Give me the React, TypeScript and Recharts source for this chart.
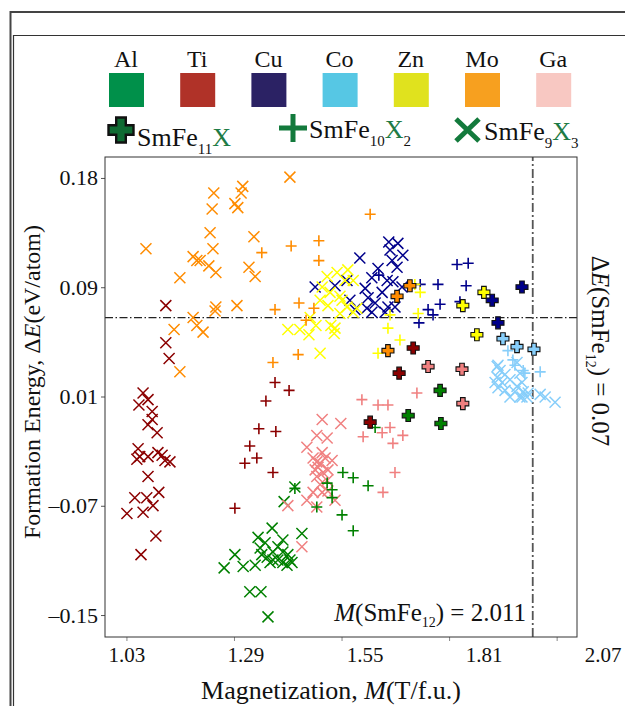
import React from 'react';
import { ScatterChart, Scatter, XAxis, YAxis, ReferenceLine } from 'recharts';

const xTicks = [1.03, 1.29, 1.55, 1.81, 2.07];
const xTickLabels = ['1.03', '1.29', '1.55', '1.81', '2.07'];
const yTicks = [-0.155, -0.0725, 0.01, 0.0925, 0.175];
const yTickLabels = ['\u20130.15', '\u20130.07', '0.01', '0.09', '0.18'];

const elements = ['Al', 'Ti', 'Cu', 'Co', 'Zn', 'Mo', 'Ga'];
const legendColors = ['#00904A', '#B03228', '#2B2264', '#56C7E4', '#E0E21E', '#F7A01F', '#F8C8C2'];
const seriesColors = ['#008000', '#8B0000', '#00008B', '#87CEFA', '#FFFF00', '#FF8C00', '#F08080'];

const mSmFe12 = 2.011;
const eSmFe12 = 0.07;

// [M, dE]
const alFe9 = [[1.436,-0.058],[1.410,-0.069],[1.381,-0.089],[1.453,-0.093],[1.347,-0.096],[1.407,-0.098],[1.364,-0.100],[1.352,-0.104],[1.395,-0.103],[1.383,-0.107],[1.407,-0.107],[1.291,-0.109],[1.356,-0.109],[1.369,-0.111],[1.419,-0.109],[1.383,-0.113],[1.395,-0.113],[1.424,-0.113],[1.376,-0.115],[1.407,-0.115],[1.417,-0.117],[1.429,-0.115],[1.265,-0.119],[1.311,-0.118],[1.340,-0.117],[1.327,-0.137],[1.354,-0.137],[1.371,-0.156]];
const alFe10 = [[1.436,-0.059],[1.552,-0.047],[1.577,-0.051],[1.526,-0.060],[1.526,-0.066],[1.489,-0.073],[1.550,-0.079],[1.577,-0.091],[1.514,-0.055],[1.613,-0.057],[1.630,-0.013]];
const alFe11 = [[1.787,0.015],[1.710,-0.004],[1.789,-0.010]];

const tiFe9 = [[1.124,0.079],[1.124,0.051],[1.132,0.039],[1.069,0.013],[1.081,0.008],[1.059,0.004],[1.091,-0.001],[1.091,-0.007],[1.081,-0.011],[1.103,-0.017],[1.057,-0.029],[1.061,-0.035],[1.054,-0.037],[1.081,-0.035],[1.105,-0.032],[1.115,-0.034],[1.122,-0.038],[1.134,-0.039],[1.081,-0.050],[1.049,-0.066],[1.078,-0.066],[1.107,-0.062],[1.093,-0.072],[1.030,-0.078],[1.069,-0.077],[1.100,-0.095],[1.064,-0.109]];
const tiFe10 = [[1.388,0.021],[1.422,0.015],[1.366,0.007],[1.349,-0.014],[1.390,-0.016],[1.327,-0.027],[1.344,-0.036],[1.315,-0.040],[1.383,-0.047],[1.291,-0.074]];
const tiFe11 = [[1.722,0.047],[1.688,0.028],[1.618,-0.009]];

const cuFe9 = [[1.663,0.127],[1.685,0.126],[1.666,0.121],[1.697,0.117],[1.671,0.113],[1.593,0.115],[1.637,0.107],[1.683,0.108],[1.622,0.100],[1.659,0.098],[1.673,0.097],[1.606,0.092],[1.647,0.089],[1.695,0.093],[1.613,0.085],[1.569,0.083],[1.630,0.081],[1.661,0.078],[1.610,0.077],[1.678,0.078],[1.581,0.076],[1.622,0.074],[1.654,0.074],[1.562,0.098],[1.485,0.093],[1.533,0.094]];
const cuFe10 = [[1.639,0.102],[1.739,0.095],[1.782,0.095],[1.828,0.110],[1.855,0.111],[1.850,0.094],[1.787,0.080],[1.835,0.082],[1.758,0.076],[1.770,0.072],[1.736,0.066]];
const cuFe11 = [[1.985,0.093],[1.913,0.083],[1.927,0.066]];

const coFe9 = [[1.927,0.034],[1.932,0.030],[1.925,0.025],[1.920,0.021],[1.937,0.021],[1.927,0.017],[1.944,0.015],[1.956,0.010],[1.973,0.018],[1.985,0.021],[1.980,0.028],[1.968,0.014],[1.988,0.014],[1.997,0.010],[1.985,0.010],[2.029,0.012],[2.041,0.010],[2.065,0.006],[1.925,0.033],[1.973,0.036],[1.980,0.010],[2.000,0.013],[1.956,0.023],[1.944,0.027]];
const coFe10 = [[1.951,0.045],[1.963,0.038],[1.968,0.034],[1.988,0.030],[1.992,0.028],[2.029,0.029]];
const coFe11 = [[1.939,0.054],[1.973,0.048],[2.014,0.046]];

const znFe9 = [[1.514,0.101],[1.538,0.104],[1.564,0.106],[1.577,0.098],[1.557,0.098],[1.521,0.089],[1.545,0.086],[1.497,0.083],[1.516,0.079],[1.562,0.078],[1.545,0.073],[1.577,0.074],[1.419,0.061],[1.448,0.061],[1.470,0.057],[1.487,0.064],[1.523,0.064],[1.531,0.058],[1.533,0.062],[1.497,0.043],[1.550,0.083],[1.586,0.077],[1.502,0.093],[1.473,0.070]];
const znFe10 = [[1.739,0.089],[1.726,0.095],[1.734,0.073],[1.661,0.062],[1.690,0.053],[1.637,0.043],[1.666,0.072]];
const znFe11 = [[1.893,0.089],[1.842,0.079],[1.876,0.057]];

const moFe9 = [[1.424,0.176],[1.310,0.169],[1.240,0.164],[1.306,0.164],[1.291,0.156],[1.298,0.153],[1.236,0.152],[1.231,0.134],[1.337,0.131],[1.076,0.122],[1.238,0.122],[1.190,0.116],[1.199,0.113],[1.207,0.113],[1.228,0.109],[1.245,0.104],[1.325,0.108],[1.340,0.101],[1.158,0.100],[1.296,0.079],[1.245,0.078],[1.243,0.075],[1.190,0.070],[1.144,0.061],[1.199,0.064],[1.214,0.059],[1.158,0.029]];
const moFe10 = [[1.356,0.119],[1.427,0.124],[1.494,0.128],[1.494,0.113],[1.388,0.076],[1.446,0.081],[1.482,0.077],[1.463,0.068],[1.444,0.042],[1.383,0.036],[1.618,0.148]];
const moFe11 = [[1.714,0.094],[1.683,0.086],[1.661,0.045]];

const gaFe9 = [[1.502,-0.007],[1.547,-0.010],[1.489,-0.019],[1.514,-0.021],[1.465,-0.028],[1.502,-0.032],[1.480,-0.036],[1.489,-0.039],[1.497,-0.040],[1.509,-0.036],[1.526,-0.038],[1.492,-0.043],[1.485,-0.045],[1.504,-0.047],[1.516,-0.045],[1.489,-0.050],[1.514,-0.053],[1.497,-0.056],[1.480,-0.062],[1.465,-0.068],[1.502,-0.062],[1.516,-0.061],[1.533,-0.068],[1.419,-0.072],[1.489,-0.073],[1.453,-0.103]];
const gaFe10 = [[1.598,0.008],[1.637,0.004],[1.661,0.004],[1.731,0.013],[1.666,-0.013],[1.647,-0.017],[1.601,-0.020],[1.697,-0.019],[1.673,-0.025],[1.678,-0.047],[1.649,-0.062]];
const gaFe11 = [[1.758,0.033],[1.840,0.031],[1.842,0.005]];

const fe9Sets = [alFe9, tiFe9, cuFe9, coFe9, znFe9, moFe9, gaFe9];
const fe10Sets = [alFe10, tiFe10, cuFe10, coFe10, znFe10, moFe10, gaFe10];
const fe11Sets = [alFe11, tiFe11, cuFe11, coFe11, znFe11, moFe11, gaFe11];

const toPts = (arr: number[][]) => arr.map(([x, y]) => ({ x, y }));

const FONT = '"Liberation Serif", "Times New Roman", serif';

const crossShape = (color: string) => (p: any) => {
  const { cx, cy } = p;
  const r = 5.5;
  return (
    <path
      d={`M${cx - r},${cy - r}L${cx + r},${cy + r}M${cx - r},${cy + r}L${cx + r},${cy - r}`}
      stroke={color}
      strokeWidth={1.5}
      fill="none"
    />
  );
};

const plusShape = (color: string) => (p: any) => {
  const { cx, cy } = p;
  const r = 5.5;
  return (
    <path
      d={`M${cx - r},${cy}L${cx + r},${cy}M${cx},${cy - r}L${cx},${cy + r}`}
      stroke={color}
      strokeWidth={1.6}
      fill="none"
    />
  );
};

const boldPlusPoints = (cx: number, cy: number, a: number, t: number) =>
  [
    [-a, -t], [-t, -t], [-t, -a], [t, -a], [t, -t], [a, -t],
    [a, t], [t, t], [t, a], [-t, a], [-t, t], [-a, t],
  ]
    .map(([dx, dy]) => `${cx + dx},${cy + dy}`)
    .join(' ');

const boldPlusShape = (color: string) => (p: any) => {
  const { cx, cy } = p;
  return (
    <polygon points={boldPlusPoints(cx, cy, 6, 2.3)} fill={color} stroke="#111" strokeWidth={1.1} />
  );
};

const XTick = (props: any) => {
  const { x, y, payload } = props;
  const i = xTicks.indexOf(payload.value);
  return (
    <text x={x + i * 11.5} y={y} dy={19} textAnchor="middle" fontFamily={FONT} fontSize={21} fill="#111">
      {xTickLabels[i]}
    </text>
  );
};

const YTick = (props: any) => {
  const { x, y, payload } = props;
  const i = yTicks.indexOf(payload.value);
  return (
    <text x={x - 1} y={y} dy={7} textAnchor="end" fontFamily={FONT} fontSize={22} fill="#111">
      {yTickLabels[i]}
    </text>
  );
};

export default function App() {
  return (
    <div style={{ position: 'absolute', left: 0, top: 0, width: 625, height: 706, background: '#fff' }}>
      <ScatterChart width={625} height={706} margin={{ top: 157, right: 48, bottom: 39, left: 45 }}>
        <XAxis
          type="number"
          dataKey="x"
          domain={[0.977, 2.118]}
          ticks={xTicks}
          allowDataOverflow
          height={30}
          axisLine={false}
          tickLine={{ stroke: '#888' }}
          tickSize={4}
          tick={<XTick />}
          interval={0}
        />
        <YAxis
          type="number"
          dataKey="y"
          domain={[-0.1712, 0.1912]}
          ticks={yTicks}
          allowDataOverflow
          width={60}
          axisLine={false}
          tickLine={{ stroke: '#555' }}
          tickSize={4}
          tick={<YTick />}
          interval={0}
        />
        <ReferenceLine y={eSmFe12} stroke="#222" strokeWidth={1.3} strokeDasharray="8 2.5 1.5 2.5" />
        <ReferenceLine x={mSmFe12} stroke="#555" strokeWidth={1.8} strokeDasharray="9 3 2 3" />
        {fe9Sets.map((s, i) => (
          <Scatter key={'x' + i} data={toPts(s)} isAnimationActive={false} shape={crossShape(seriesColors[i])} />
        ))}
        {fe10Sets.map((s, i) => (
          <Scatter key={'p' + i} data={toPts(s)} isAnimationActive={false} shape={plusShape(seriesColors[i])} />
        ))}
        {fe11Sets.map((s, i) => (
          <Scatter key={'b' + i} data={toPts(s)} isAnimationActive={false} shape={boldPlusShape(seriesColors[i])} />
        ))}
      </ScatterChart>
      <svg
        width={625}
        height={706}
        style={{ position: 'absolute', left: 0, top: 0, pointerEvents: 'none' }}
        fontFamily={FONT}
      >
        {/* frames */}
        <path d="M10.5,706V12H625" stroke="#444" strokeWidth={2} fill="none" />
        <path d="M13.5,706V35.5H625" stroke="#333" strokeWidth={1.2} fill="none" />
        <rect x={105} y={157} width={472} height={480} fill="none" stroke="#333" strokeWidth={1} />

        {/* element legend */}
        {elements.map((el, i) => (
          <g key={el}>
            <text x={126 + i * 71.2} y={67} textAnchor="middle" fontSize={24} fill="#111">
              {el}
            </text>
            <rect x={109 + i * 71.2} y={73} width={35} height={34} fill={legendColors[i]} />
          </g>
        ))}

        {/* marker legend */}
        <polygon points={boldPlusPoints(121, 130, 12.5, 4.8)} fill="#0F6B32" stroke="#111" strokeWidth={2.4} />
        <text x={137} y={146} fontSize={26} fill="#111">
          SmFe<tspan fontSize={15} dy={8}>11</tspan>
          <tspan dy={-8} fill="#1E7B45">X</tspan>
        </text>

        <path d="M279,128H307M293,114V142" stroke="#137A3C" strokeWidth={5} fill="none" />
        <text x={309} y={138} fontSize={26} fill="#111">
          SmFe<tspan fontSize={15} dy={8}>10</tspan>
          <tspan dy={-8} fill="#1E7B45">X</tspan>
          <tspan fontSize={15} dy={8}>2</tspan>
        </text>

        <path d="M456,119L479,141M456,141L479,119" stroke="#137A3C" strokeWidth={5} fill="none" />
        <text x={484} y={140} fontSize={26} fill="#111">
          SmFe<tspan fontSize={15} dy={8}>9</tspan>
          <tspan dy={-8} fill="#1E7B45">X</tspan>
          <tspan fontSize={15} dy={8}>3</tspan>
        </text>

        {/* in-plot annotation */}
        <text x={526} y={621} textAnchor="end" fontSize={25} fill="#111">
          <tspan fontStyle="italic">M</tspan>(SmFe<tspan fontSize={14} dy={6}>12</tspan>
          <tspan dy={-6}>) = 2.011</tspan>
        </text>

        {/* right label */}
        <text transform="rotate(90, 600, 351)" x={600} y={359} textAnchor="middle" fontSize={25} fill="#111">
          {'\u0394'}<tspan fontStyle="italic">E</tspan>(SmFe<tspan fontSize={14} dy={6}>12</tspan>
          <tspan dy={-6}>) = 0.07</tspan>
        </text>

        {/* axis titles */}
        <text transform="translate(40, 382) rotate(-90)" x={0} y={0} textAnchor="middle" fontSize={24} fill="#111">
          Formation Energy, {'\u0394'}<tspan fontStyle="italic">E</tspan>(eV/atom)
        </text>
        <text x={331} y={699} textAnchor="middle" fontSize={26} fill="#111">
          Magnetization, <tspan fontStyle="italic">M</tspan>(T/f.u.)
        </text>
      </svg>
    </div>
  );
}
